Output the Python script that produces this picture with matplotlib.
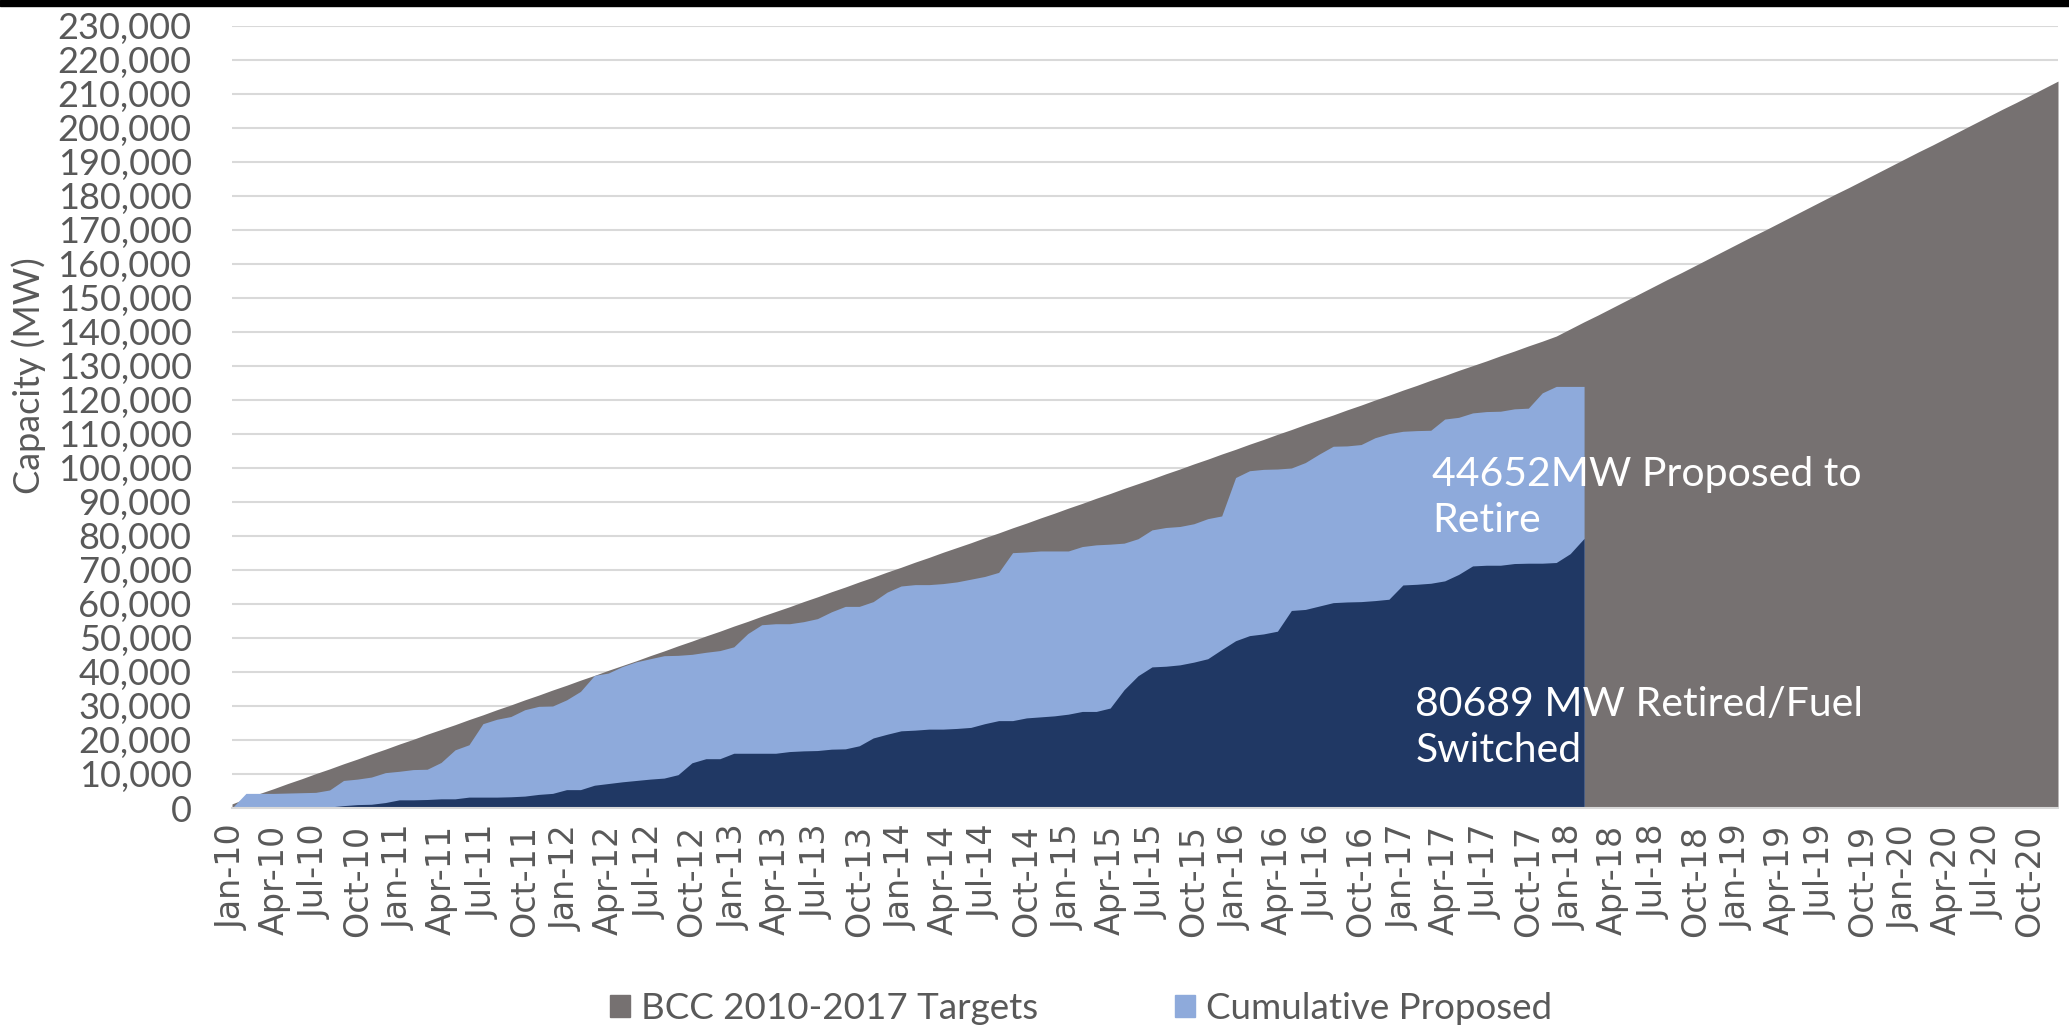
import numpy as np
import matplotlib.pyplot as plt
from matplotlib.patches import Rectangle, Patch
from matplotlib.ticker import FuncFormatter

# monthly categories, Jan-10 .. Dec-20
month_names = ['Jan', 'Feb', 'Mar', 'Apr', 'May', 'Jun', 'Jul', 'Aug', 'Sep', 'Oct', 'Nov', 'Dec']
years = list(range(10, 21))
months = [m + '-' + str(y) for y in years for m in month_names]

# BCC 2010-2017 targets (MW)
targets = [
    1200, 2800, 4300, 5700, 7200, 8600, 10100, 11500, 13000, 14400, 15900, 17300,
    18800, 20200, 21700, 23100, 24500, 26000, 27400, 28900, 30300, 31800, 33200, 34700,
    36100, 37600, 39000, 40500, 41900, 43300, 44800, 46200, 47700, 49100, 50600, 52000,
    53500, 54900, 56400, 57800, 59200, 60700, 62100, 63600, 65000, 66500, 67900, 69400,
    70800, 72300, 73700, 75200, 76600, 78000, 79500, 80900, 82400, 83800, 85300, 86700,
    88200, 89600, 91100, 92500, 94000, 95400, 96800, 98300, 99700, 101200, 102600, 104100,
    105500, 107000, 108400, 109900, 111300, 112800, 114200, 115600, 117100, 118500, 120000, 121400,
    122900, 124300, 125800, 127200, 128700, 130100, 131500, 133000, 134400, 135900, 137300, 138800,
    140900, 143000, 145000, 147100, 149200, 151300, 153400, 155500, 157500, 159600, 161700, 163800,
    165900, 168000, 170000, 172100, 174200, 176300, 178400, 180500, 182500, 184600, 186700, 188800,
    190900, 193000, 195000, 197100, 199200, 201300, 203400, 205500, 207500, 209600, 211700, 213800,
]

# cumulative proposed (MW), Jan-10 .. Feb-18
proposed = [
    0, 4300, 4300, 4300, 4400, 4500, 4600, 5300, 8100, 8500, 9100, 10400,
    10800, 11300, 11400, 13400, 17100, 18600, 24800, 26100, 26900, 28900, 29900, 30000,
    31800, 34300, 39000, 39700, 41600, 43000, 43900, 44800, 44900, 45200, 45800, 46300,
    47400, 51300, 53900, 54200, 54200, 54800, 55700, 57700, 59300, 59300, 60700, 63500,
    65300, 65700, 65700, 66000, 66500, 67300, 68100, 69300, 75100, 75300, 75600, 75600,
    75600, 76900, 77400, 77600, 77900, 79200, 81800, 82500, 82800, 83600, 85100, 85900,
    97200, 99200, 99600, 99700, 100000, 101600, 104100, 106400, 106500, 106900, 108900, 110100,
    110800, 111000, 111100, 114400, 114900, 116200, 116600, 116700, 117400, 117600, 122100, 124000,
    124000, 124000,
]

# retired / fuel switched (MW)
retired = [
    0, 0, 0, 0, 0, 100, 100, 300, 700, 1000, 1100, 1600,
    2400, 2400, 2500, 2700, 2700, 3200, 3200, 3200, 3300, 3500, 4000, 4300,
    5400, 5400, 6700, 7200, 7700, 8100, 8500, 8800, 9800, 13300, 14500, 14500,
    16100, 16100, 16100, 16100, 16600, 16800, 16900, 17300, 17400, 18300, 20600, 21700,
    22700, 22900, 23200, 23200, 23400, 23700, 24800, 25700, 25700, 26500, 26800, 27100,
    27600, 28400, 28400, 29400, 34800, 38900, 41500, 41700, 42100, 42900, 43900, 46600,
    49200, 50700, 51200, 52000, 58100, 58400, 59400, 60400, 60600, 60700, 61000, 61400,
    65600, 65800, 66100, 66800, 68700, 71200, 71400, 71400, 71900, 72000, 72000, 72200,
    74800, 79300,
]

gray = '#767171'
light_blue = '#8eaadb'
navy = '#203864'
text_gray = '#595959'
sans = ['Lato', 'DejaVu Sans']

fig = plt.figure(figsize=(20.69, 10.29), dpi=100)
ax = fig.add_axes([232 / 2069, 1 - 808 / 1029, (2058 - 232) / 2069, (808 - 26) / 1029])

x_all = np.arange(len(targets))
x_part = np.arange(len(proposed))
ax.fill_between(x_all, 0, targets, color=gray, lw=0, zorder=2)
ax.fill_between(x_part, 0, proposed, color=light_blue, lw=0, zorder=3)
ax.fill_between(x_part, 0, retired, color=navy, lw=0, zorder=4)

ax.set_xlim(0, len(targets) - 1)
ax.set_ylim(0, 230000)
ax.set_yticks(np.arange(0, 230001, 10000))
ax.yaxis.set_major_formatter(FuncFormatter(lambda v, p: '{:,.0f}'.format(v)))
ax.grid(axis='y', color='#d9d9d9', lw=1.5, zorder=0)
ax.set_axisbelow(True)

ax.set_xticks(x_all[::3])
ax.set_xticklabels(months[::3], rotation=90, fontsize=24, color=text_gray,
                   family='DejaVu Sans', va='top', ha='center')
for lab in ax.get_yticklabels():
    lab.set_family(sans)
    lab.set_fontsize(26)
    lab.set_color(text_gray)
ax.tick_params(axis='y', length=0, pad=29)
ax.tick_params(axis='x', length=0, pad=12)

for s in ['top', 'right', 'left']:
    ax.spines[s].set_visible(False)
ax.spines['bottom'].set_color('#d9d9d9')
ax.spines['bottom'].set_linewidth(1.5)
ax.spines['bottom'].set_zorder(5)

fig.text(29 / 2069, 1 - 376 / 1029, 'Capacity (MW)', rotation=90, va='center', ha='center',
         fontsize=26, color=text_gray, family=sans)

ax.text(86.1, 91200, '44652MW Proposed to\nRetire', color='white', fontsize=29.5,
        family=sans, ha='left', va='center', linespacing=1.3, zorder=6)
ax.text(84.9, 23800, '80689 MW Retired/Fuel\nSwitched', color='white', fontsize=29.5,
        family=sans, ha='left', va='center', linespacing=1.3, zorder=6)

handles = [Patch(color=gray, label='BCC 2010-2017 Targets'),
           Patch(color=light_blue, label='Cumulative Proposed')]
fig.legend(handles=handles, loc='center', bbox_to_anchor=(0.5225, 0.02), ncol=2, frameon=False,
           prop={'family': sans, 'size': 26.5}, labelcolor=text_gray,
           handlelength=0.55, handleheight=0.55, handletextpad=0.3, columnspacing=3.7)

# black strip along the top edge
fig.patches.append(Rectangle((0, 1 - 6 / 1029), 1, 6 / 1029, transform=fig.transFigure,
                             color='black', zorder=10))

plt.savefig('out.png', dpi=100)
